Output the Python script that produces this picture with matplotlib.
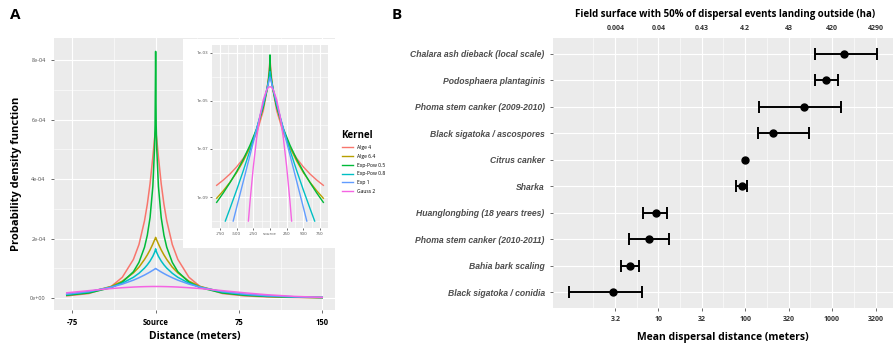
import numpy as np
import matplotlib
matplotlib.use("Agg")
import matplotlib.pyplot as plt
from matplotlib.patches import Rectangle
from matplotlib.lines import Line2D
from matplotlib import ticker

plt.rcParams['font.family'] = ['Open Sans', 'DejaVu Sans']

# ---- panel A : kernels (symmetric around source)
kernels = ['Alge 4', 'Alge 6.4', 'Exp-Pow 0.5', 'Exp-Pow 0.8', 'Exp 1', 'Gauss 2']
colors = ['#F8766D', '#B79F00', '#00BA38', '#00BFC4', '#619CFF', '#F564E3']

main_r = [0, 0.5, 1, 2.5, 5, 7.5, 10, 15, 20, 30, 40, 60, 80, 100, 125, 150]
alge4 = [5.6e-4, 5.5e-4, 5.35e-4, 4.75e-4, 3.85e-4, 3.15e-4, 2.6e-4, 1.8e-4, 1.3e-4,
         7.0e-5, 3.9e-5, 1.55e-5, 7.4e-6, 4.0e-6, 2.1e-6, 1.2e-6]
alge64 = [2.04e-4, 1.99e-4, 1.95e-4, 1.82e-4, 1.62e-4, 1.45e-4, 1.30e-4, 1.04e-4, 8.48e-5,
          5.69e-5, 3.92e-5, 1.97e-5, 1.06e-5, 6.0e-6, 3.2e-6, 1.8e-6]
exppow05 = [8.29e-4, 5.82e-4, 5.03e-4, 3.76e-4, 2.71e-4, 2.11e-4, 1.71e-4, 1.20e-4, 8.86e-5,
            5.36e-5, 3.51e-5, 1.72e-5, 9.5e-6, 5.6e-6, 3.1e-6, 1.8e-6]
exppow08 = [1.657e-4, 1.584e-4, 1.531e-4, 1.407e-4, 1.246e-4, 1.117e-4, 1.009e-4, 8.34e-5, 6.99e-5,
            5.02e-5, 3.69e-5, 2.07e-5, 1.21e-5, 7.3e-6, 3.9e-6, 2.2e-6]
exp1 = [9.95e-5, 9.83e-5, 9.70e-5, 9.35e-5, 8.78e-5, 8.25e-5, 7.75e-5, 6.84e-5, 6.03e-5,
        4.70e-5, 3.66e-5, 2.22e-5, 1.35e-5, 8.2e-6, 4.4e-6, 2.3e-6]
gauss2 = [3.90e-5, 3.90e-5, 3.90e-5, 3.90e-5, 3.89e-5, 3.87e-5, 3.85e-5, 3.79e-5, 3.71e-5,
          3.49e-5, 3.21e-5, 2.51e-5, 1.78e-5, 1.14e-5, 5.7e-6, 2.5e-6]
main_left_limit = 80

# inset (log scale), lines stop where they reach 1e-10
inset_r = [0, 1, 5, 10, 25, 50, 100, 200, 300, 400, 500, 600, 700, 800]
in_alge4 = [5.6e-4, 5.35e-4, 3.85e-4, 2.6e-4, 8.9e-5, 2.35e-5, 3.98e-6, 4.61e-7, 1.14e-7,
            4.08e-8, 1.80e-8, 9.11e-9, 5.10e-9, 3.07e-9]
in_alge64 = [2.04e-4, 1.95e-4, 1.62e-4, 1.30e-4, 6.93e-5, 2.75e-5, 6.0e-6, 6.24e-7, 1.18e-7,
             3.15e-8, 1.05e-8, 4.13e-9, 1.83e-9, 8.88e-10]
in_exppow05 = [8.29e-4, 5.03e-4, 2.71e-4, 1.71e-4, 6.80e-5, 2.42e-5, 5.59e-6, 7.04e-7, 1.44e-7,
               3.76e-8, 1.16e-8, 3.98e-9, 1.49e-9, 5.99e-10]
in_r_exppow08 = [0, 1, 5, 10, 25, 50, 100, 200, 300, 400, 500, 600, 670]
in_exppow08 = [1.657e-4, 1.531e-4, 1.246e-4, 1.009e-4, 5.90e-5, 2.75e-5, 7.26e-6, 7.14e-7,
               8.88e-8, 1.26e-8, 1.97e-9, 3.35e-10, 1e-10]
in_r_exp1 = [0, 1, 5, 10, 25, 50, 100, 200, 300, 400, 500, 552]
in_exp1 = [9.95e-5, 9.70e-5, 8.78e-5, 7.75e-5, 5.33e-5, 2.85e-5, 8.17e-6, 6.70e-7, 5.50e-8,
           4.52e-9, 3.71e-10, 1e-10]
in_r_gauss2 = [0, 1, 5, 10, 25, 50, 100, 150, 200, 250, 300, 324]
in_gauss2 = [3.90e-5, 3.90e-5, 3.89e-5, 3.85e-5, 3.61e-5, 2.87e-5, 1.14e-5, 2.47e-6, 2.89e-7,
             1.83e-8, 6.27e-10, 1e-10]

# ---- panel B : dispersal distances
pathogens = ['Chalara ash dieback (local scale)', 'Podosphaera plantaginis',
             'Phoma stem canker (2009-2010)', 'Black sigatoka / ascospores', 'Citrus canker',
             'Sharka', 'Huanglongbing (18 years trees)', 'Phoma stem canker (2010-2011)',
             'Bahia bark scaling', 'Black sigatoka / conidia']
mean_dist = [1377, 851, 475, 208, 99, 91, 9.5, 7.9, 4.7, 3.0]
low_dist = [635, 635, 143, 140, np.nan, 79, 6.7, 4.6, 3.7, 0.94]
high_dist = [3310, 1175, 1260, 542, np.nan, 105, 12.7, 13.4, 6.0, 6.5]
dist_ticks = [3.2, 10, 32, 100, 320, 1000, 3200]
dist_labels = ['3.2', '10', '32', '100', '320', '1000', '3200']
surface_labels = ['0.004', '0.04', '0.43', '4.2', '43', '420', '4290']

BG = '#EBEBEB'
W, H = 896, 349
fig = plt.figure(figsize=(W / 100, H / 100), dpi=100)


def frac(x0, y0, x1, y1):
    return [x0 / W, 1 - y1 / H, (x1 - x0) / W, (y1 - y0) / H]


def gg(ax):
    ax.set_facecolor(BG)
    for s in ax.spines.values():
        s.set_visible(False)
    ax.grid(True, which='major', color='white', lw=0.8)
    ax.grid(True, which='minor', color='white', lw=0.4)
    ax.set_axisbelow(True)
    ax.tick_params(which='major', length=2.5, width=0.5, color='#333333')
    ax.tick_params(which='minor', length=0)


def mirror(r, v, rmax_left):
    left = [(-a, b) for a, b in zip(r, v) if 0 < a <= rmax_left]
    left = left[::-1]
    xs = [p[0] for p in left] + list(r)
    ys = [p[1] for p in left] + list(v)
    return xs, ys


# main axes A
axA = fig.add_axes(frac(54, 38, 335, 310))
gg(axA)
main_series = [alge4, alge64, exppow05, exppow08, exp1, gauss2]
for vals, c in zip(main_series, colors):
    xs, ys = mirror(main_r, vals, main_left_limit)
    axA.plot(xs, ys, color=c, lw=1.1)
axA.set_xlim(-91.5, 161.5)
axA.set_ylim(-4e-5, 8.74e-4)
axA.set_xticks([-75, 0, 75, 150])
axA.set_xticklabels(['-75', 'Source', '75', '150'], fontsize=5.5, fontweight='bold')
axA.set_xticks([-37.5, 37.5, 112.5], minor=True)
axA.set_yticks([0, 2e-4, 4e-4, 6e-4, 8e-4])
axA.set_yticklabels(['0e+00', '2e-04', '4e-04', '6e-04', '8e-04'], fontsize=4, color='#4D4D4D')
axA.set_yticks([1e-4, 3e-4, 5e-4, 7e-4], minor=True)
axA.set_xlabel('Distance (meters)', fontsize=7.5, fontweight='bold', labelpad=3)
axA.set_ylabel('Probability density function', fontsize=8, fontweight='bold', labelpad=6)

# inset
fig.patches.append(Rectangle((183 / W, 1 - 248 / H), 152 / W, 209 / H,
                             transform=fig.transFigure, facecolor='white',
                             edgecolor='none', zorder=2))
axI = fig.add_axes(frac(212, 45, 328, 228))
axI.set_zorder(3)
gg(axI)
inset_data = [(inset_r, in_alge4), (inset_r, in_alge64), (inset_r, in_exppow05),
              (in_r_exppow08, in_exppow08), (in_r_exp1, in_exp1), (in_r_gauss2, in_gauss2)]
for (r, v), c in zip(inset_data, colors):
    xs, ys = mirror(r, v, 800)
    axI.plot(xs, ys, color=c, lw=1.0)
axI.set_yscale('log')
axI.set_xlim(-870, 870)
axI.set_ylim(10 ** -10.29, 10 ** -2.67)
axI.set_xticks([-750, -500, -250, 0, 250, 500, 750])
axI.set_xticklabels(['-750', '-500', '-250', 'source', '250', '500', '750'],
                    fontsize=3.2, color='#4D4D4D')
axI.set_yticks([1e-3, 1e-5, 1e-7, 1e-9])
axI.set_yticklabels(['1e-03', '1e-05', '1e-07', '1e-09'], fontsize=3.2, color='#4D4D4D')
axI.yaxis.set_minor_locator(ticker.FixedLocator([1e-4, 1e-6, 1e-8, 1e-10]))
axI.yaxis.set_minor_formatter(ticker.NullFormatter())
axI.set_xticks([-625, -375, -125, 125, 375, 625], minor=True)
axI.tick_params(which='major', length=1.5, pad=1.5)
axI.tick_params(which='minor', length=0)

handles = [Line2D([], [], color=c, lw=1.0) for c in colors]
leg = fig.legend(handles, kernels, loc='upper left', bbox_to_anchor=(337 / W, 1 - 126 / H),
                 frameon=False, title='Kernel', fontsize=3.6, title_fontsize=7,
                 handlelength=2.2, labelspacing=0.75, alignment='left')
leg.get_title().set_fontweight('bold')

# panel B
axB = fig.add_axes(frac(553, 38, 893, 308))
gg(axB)
axB.set_xscale('log')
n = len(pathogens)
ypos = [n - 1 - i for i in range(n)]
for y, m, lo, hi in zip(ypos, mean_dist, low_dist, high_dist):
    if not np.isnan(lo):
        axB.errorbar([m], [y], xerr=[[m - lo], [hi - m]], fmt='none', ecolor='black',
                     elinewidth=1.4, capsize=4.5, capthick=1.4)
axB.plot(mean_dist, ypos, 'o', color='black', ms=5)
axB.set_xlim(10 ** -0.214, 10 ** 3.705)
axB.set_ylim(-0.6, n - 0.4)
axB.set_yticks(ypos)
axB.set_yticklabels(pathogens, fontsize=6.2, fontstyle='italic', fontweight='bold',
                    color='#4D4D4D', family=['Liberation Sans'])
axB.set_xticks(dist_ticks)
axB.set_xticklabels(dist_labels, fontsize=5, fontweight='bold', color='#333333')
axB.xaxis.set_minor_locator(ticker.FixedLocator(
    [10 ** (k / 4.0) for k in range(-1, 16, 2)]))
axB.xaxis.set_minor_formatter(ticker.NullFormatter())
axB.tick_params(which='minor', length=0)
axB.set_xlabel('Mean dispersal distance (meters)', fontsize=7.5, fontweight='bold', labelpad=6)
top = axB.secondary_xaxis('top')
top.set_xticks(dist_ticks)
top.set_xticklabels(surface_labels, fontsize=5, fontweight='bold', color='#333333')
top.xaxis.set_minor_locator(ticker.NullLocator())
top.tick_params(length=0, pad=4)
for s in top.spines.values():
    s.set_visible(False)
fig.text(575 / W, 1 - 15 / H, 'Field surface with 50% of dispersal events landing outside (ha)',
         fontsize=7.0, fontweight='bold', va='center', ha='left')

fig.text(10 / W, 1 - 15 / H, 'A', fontsize=11, fontweight='bold', va='center')
fig.text(392 / W, 1 - 15 / H, 'B', fontsize=11, fontweight='bold', va='center')

fig.savefig('out.png', dpi=100)
